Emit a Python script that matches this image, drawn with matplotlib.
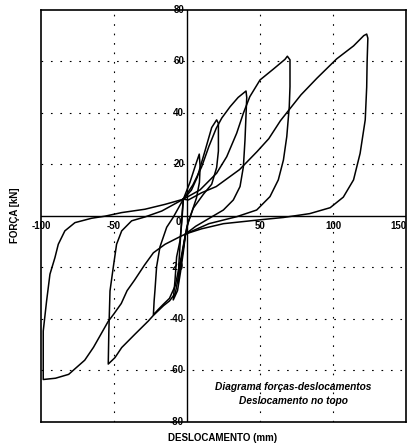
import matplotlib
matplotlib.use('Agg')
import matplotlib.pyplot as plt

plt.rcParams['font.family'] = ['Liberation Sans', 'DejaVu Sans']

# ciclos de carga (deslocamento em mm, forca em kN)
c1_x = [-2.5, 2, 6, 8.4, 9.0, 8.5, 6.5, 3, 0, -1, -3, -5, -6, -5.5, -4.5, -3.5, -2.5]
c1_y = [6.5, 13, 20, 24, 19, 13, 7, 1, -4, -7, -14, -21, -26, -18, -9, 0, 6.5]

c2_x = [-2.5, 3, 7, 12.3, 16.9, 20.3, 21.5, 21.5, 20.3, 16.9, 11.2, 4.3, 1, -1,
        -2.5, -4.5, -6.5, -9.4, -8.2, -7.1, -4.8, -3.5, -2.5]
c2_y = [6.5, 10, 15, 25.2, 34.3, 37.3, 35.9, 25.2, 18.8, 12.3, 8.4, 3, -2, -7,
        -14, -22, -29, -32.6, -24.9, -15.9, -9.7, -2, 6.5]

c3_x = [-2.5, 4, 10, 15, 20, 23.8, 29.5, 35, 40.4, 40.9, 39.7, 38.6, 36.3, 31.7,
        24.9, 15, 6, -1, -4, -8, -12, -16.2, -20, -23, -22.5, -21.9, -20.8, -18.5,
        -13.9, -9.4, -2.5]
c3_y = [6.5, 12, 19, 27, 34, 38, 42.4, 46, 48.5, 46, 29.5, 19.1, 11.4, 6.2,
        2.3, -1, -4, -7, -16, -27, -32, -34.3, -36.5, -38.4, -33, -28.7, -19.7, -12,
        -4.4, -0.5, 6.5]

c4_x = [-2.5, 8.9, 20.3, 27.2, 34, 38.6, 43, 50, 59.1, 67.1, 68.7, 70.5, 70.5, 70,
        68.3, 66, 62.5, 56.8, 47.7, 34, 15, -1, -4, -8, -12, -16, -23, -26.5, -35.6,
        -44.7, -49.3, -53.9, -53.5, -52.7, -50.5, -48.2, -44.7, -37.9, -28.8, -17.3,
        -2.5]
c4_y = [6.5, 10.1, 16.6, 23, 32.1, 39.9, 46.3, 52.8, 57, 60.8, 62, 60.6, 50.2, 42.4,
        30.8, 21.7, 14, 7.5, 2.3, -0.3, -3, -7, -18, -30, -33, -34.8, -38.6, -40.8, -45.9,
        -51.1, -55, -57.5, -45, -29.1, -20.1, -11, -5.8, -1.9, -0.4, 1.9,
        6.5]

c5_x = [-2.5, 0.9, 10, 20, 36, 48, 56, 64, 71, 78, 89, 102.5, 114, 121, 123, 123.8,
        123.3, 123, 122, 118.5, 114, 107, 98, 84, 66, 50, 25, 10, -1, -6, -15, -23,
        -29, -36, -41, -45, -50, -54, -59, -64, -70, -81, -90, -98.4, -98.4, -96.1,
        -93.8, -90.4, -88.1, -83.6, -76.7, -65.3, -56.2, -44.7, -28.8, -15, -2.5]
c5_y = [6.5, 6.2, 9, 11.4, 18, 25, 30, 37, 42, 47, 53.5, 61, 66, 70, 70.6, 69,
        60, 50, 37.3, 24.3, 14, 7.3, 3.2, 0.9, -0.6, -1.5, -3, -5, -7, -8.4, -11, -14.3,
        -19, -25, -29, -34, -38, -41, -46, -51, -56, -61.5, -63, -63.5, -44.7, -33,
        -22.6, -16.2, -11, -5.8, -2.6, -0.9, -0.1, 1.3, 2.6, 4.5, 6.5]

x_ticks = [-100, -50, 50, 100, 150]
y_ticks = [-80, -60, -40, -20, 20, 40, 60, 80]

fig = plt.figure(figsize=(4.09, 4.48), dpi=100)
ax = fig.add_axes([0.100, 0.058, 0.893, 0.920])

for xs, ys in [(c1_x, c1_y), (c2_x, c2_y), (c3_x, c3_y), (c4_x, c4_y), (c5_x, c5_y)]:
    ax.plot(xs, ys, color='black', linewidth=1.1)

# grelha pontilhada (tracejado esparso como no original digitalizado)
for gx in [-50, 50, 100]:
    ax.axvline(gx, color='black', linewidth=0.8, linestyle=(0, (1.5, 7)), zorder=0)
for gy in [-60, -40, -20, 20, 40, 60]:
    ax.axhline(gy, color='black', linewidth=0.8, linestyle=(0, (1.5, 7)), zorder=0)

# eixos centrais
ax.axvline(0, color='black', linewidth=1.0)
ax.axhline(0, color='black', linewidth=1.0)

ax.set_xlim(-100, 150)
ax.set_ylim(-80, 80)
ax.set_xticks([])
ax.set_yticks([])
for s in ax.spines.values():
    s.set_linewidth(1.2)

for t in x_ticks:
    if t == 150:
        ax.text(150.5, -3.8, str(t), ha='right', va='center', fontsize=7,
                fontweight='bold')
    else:
        ax.text(t, -3.8, str(t), ha='center', va='center', fontsize=7,
                fontweight='bold', clip_on=False)
ax.text(-4, -2.5, '0', ha='right', va='center', fontsize=7, fontweight='bold')
for t in y_ticks:
    ax.text(-2, t, str(t), ha='right', va='center', fontsize=7, fontweight='bold')

ax.text(73, -66.4, 'Diagrama forças-deslocamentos', ha='center', va='center',
        fontsize=7.3, fontstyle='italic', fontweight='bold')
ax.text(73, -71.8, 'Deslocamento no topo', ha='center', va='center',
        fontsize=7.3, fontstyle='italic', fontweight='bold')

fig.text(0.037, 0.52, 'FORÇA [kN]', rotation=90, ha='center', va='center',
         fontsize=7, fontweight='bold')
fig.text(0.545, 0.022, 'DESLOCAMENTO (mm)', ha='center', va='center',
         fontsize=7, fontweight='bold')

fig.savefig('out.png', dpi=100)
